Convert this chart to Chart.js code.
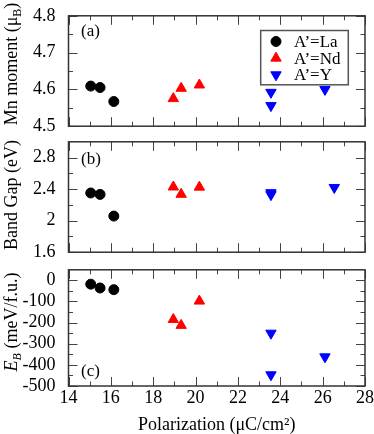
<!DOCTYPE html>
<html>
<head>
<meta charset="utf-8">
<script src="https://cdn.jsdelivr.net/npm/chart.js@4.4.1/dist/chart.umd.min.js"></script>
<style>
  html, body { margin: 0; padding: 0; background: #fff; }
  #wrap { position: relative; width: 374px; height: 434px; overflow: hidden; font-family: 'Liberation Serif', 'Times New Roman', serif; }
  canvas { position: absolute; left: 0; }
  .ytitle { position: absolute; width: 160px; height: 22px; line-height: 22px; text-align: center; font-size: 18px; color: #000; transform: rotate(-90deg); white-space: nowrap; }
  .ytitle sub { font-size: 12px; vertical-align: -4px; line-height: 0; }
</style>
</head>
<body>
<div id="wrap">
  <canvas id="ca" width="374" height="142" style="top:0px"></canvas>
  <canvas id="cb" width="374" height="142" style="top:126px"></canvas>
  <canvas id="cc" width="374" height="180" style="top:254px"></canvas>
  <div class="ytitle" style="left:-69px; top:53px">Mn moment (μ<sub>B</sub>)</div>
  <div class="ytitle" style="left:-69px; top:184px">Band Gap (eV)</div>
  <div class="ytitle" style="left:-69px; top:311px"><i>E<sub>B</sub></i> (meV/f.u.)</div>
</div>
<script>
// polarization (x) of each compound, uC/cm2
const polLa = [15.05, 15.49, 16.14];
const polNd = [18.95, 19.32, 20.18];
const polY = [23.56, 23.56, 26.11];
const polYGap = [23.56, 23.56, 26.55];

// (a) Mn moment
const momLa = [4.609, 4.605, 4.567];
const momNd = [4.575, 4.603, 4.612];
const momY = [4.592, 4.556, 4.600];

// (b) band gap
const gapLa = [2.351, 2.333, 2.058];
const gapNd = [2.427, 2.334, 2.425];
const gapY = [2.355, 2.330, 2.421];

// (c) E_B
const ebLa = [-18, -36, -44];
const ebNd = [-185, -213, -98];
const ebY = [-250, -447, -362];

const groups = ['A’=La', 'A’=Nd', 'A’=Y'];
const xTicks = [14, 16, 18, 20, 22, 24, 26, 28];
const momTicks = [4.5, 4.6, 4.7, 4.8];
const gapTicks = [1.6, 2, 2.4, 2.8];
const ebTicks = [-500, -400, -300, -200, -100, 0];

const serif = "'Liberation Serif', 'Times New Roman', serif";
const styles = [
  { pointStyle: 'circle', color: '#000000', radius: 5, rotation: 0 },
  { pointStyle: 'triangle', color: '#ff0000', radius: 6, rotation: 0 },
  { pointStyle: 'triangle', color: '#0000ff', radius: 6, rotation: 180 }
];

let pts = (xs, ys) => xs.map((x, i) => ({ x: x, y: ys[i] }));

let makeSets = (xsList, ysList) => xsList.map((xs, i) => ({
  label: groups[i],
  data: pts(xs, ysList[i]),
  pointStyle: styles[i].pointStyle,
  pointRotation: styles[i].rotation,
  pointRadius: styles[i].radius,
  pointBackgroundColor: styles[i].color,
  pointBorderColor: styles[i].color,
  pointBorderWidth: 1,
  showLine: false
}));

let mids = vals => vals.slice(1).map((v, i) => (v + vals[i]) / 2);

// frame with inward ticks on all four sides, panel letter, optional legend
const frame = {
  id: 'frame',
  beforeDatasetsDraw(chart, args, opts) {
    let { ctx, chartArea: a, scales: { x, y } } = chart;
    ctx.save();
    ctx.strokeStyle = '#444';
    ctx.lineWidth = 1;
    ctx.beginPath();
    let xt = (vals, len) => vals.forEach(v => {
      let px = Math.round(x.getPixelForValue(v)) + 0.5;
      ctx.moveTo(px, a.bottom); ctx.lineTo(px, a.bottom - len);
      ctx.moveTo(px, a.top); ctx.lineTo(px, a.top + len);
    });
    let yt = (vals, len) => vals.forEach(v => {
      let py = Math.round(y.getPixelForValue(v)) + 0.5;
      ctx.moveTo(a.left, py); ctx.lineTo(a.left + len, py);
      ctx.moveTo(a.right, py); ctx.lineTo(a.right - len, py);
    });
    xt(xTicks, 9);
    xt(mids(xTicks), 4.5);
    yt(opts.ticks, 9);
    yt(mids(opts.ticks), 4.5);
    ctx.stroke();

    ctx.strokeStyle = '#333';
    ctx.lineWidth = 1.5;
    ctx.strokeRect(a.left, a.top, a.right - a.left, a.bottom - a.top);

    ctx.fillStyle = '#000';
    ctx.font = '17px ' + serif;
    ctx.textAlign = 'left';
    ctx.textBaseline = 'middle';
    ctx.fillText(opts.label, a.left + 12.5, opts.fromTop ? a.top + opts.dy : a.bottom - opts.dy);
    ctx.restore();
  },
  afterDatasetsDraw(chart, args, opts) {
    if (!opts.legend) return;
    let { ctx, chartArea: a } = chart;
    ctx.save();
    let bx = a.right - 104.3, by = a.top + 14.7;
    ctx.fillStyle = '#fff';
    ctx.fillRect(bx, by, 87.6, 54.3);
    ctx.strokeStyle = '#555';
    ctx.lineWidth = 1.5;
    ctx.strokeRect(bx, by, 87.6, 54.3);
    ctx.font = '17px ' + serif;
    ctx.textAlign = 'left';
    ctx.textBaseline = 'middle';
    groups.forEach((g, i) => {
      let cy = by + 11 + i * 16.65;
      let s = styles[i];
      ctx.fillStyle = s.color;
      ctx.strokeStyle = s.color;
      ctx.lineWidth = 1;
      Chart.helpers.drawPoint(ctx, { pointStyle: s.pointStyle, rotation: s.rotation, radius: s.radius, borderWidth: 1 }, bx + 15.3, cy);
      ctx.fillStyle = '#000';
      ctx.fillText(g, bx + 33.3, cy + 1);
    });
    ctx.restore();
  }
};

let panel = (id, sets, yTicks, yMin, yMax, showX, pad, frameOpts) => new Chart(document.getElementById(id), {
  type: 'scatter',
  data: { datasets: sets },
  options: {
    responsive: false,
    animation: false,
    devicePixelRatio: 1,
    layout: { padding: pad },
    plugins: { legend: { display: false }, tooltip: { enabled: false }, frame: frameOpts },
    scales: {
      x: {
        type: 'linear', min: 14, max: 28, display: showX,
        grid: { display: false }, border: { display: false },
        afterBuildTicks: s => { s.ticks = xTicks.map(v => ({ value: v })); },
        afterFit: s => { if (showX) { s.height = 48; s.paddingLeft = 0; s.paddingRight = 0; } },
        ticks: { font: { size: 18, family: serif }, color: '#000', padding: -7, maxRotation: 0, autoSkip: false },
        title: { display: showX, text: 'Polarization (μC/cm²)', font: { size: 18, family: serif }, color: '#000', padding: { top: 0, bottom: -2 } }
      },
      y: {
        type: 'linear', min: yMin, max: yMax,
        grid: { display: false }, border: { display: false },
        afterBuildTicks: s => { s.ticks = yTicks.map(v => ({ value: v })); },
        afterFit: s => { s.width = 68.5; },
        ticks: { font: { size: 18, family: serif }, color: '#000', padding: 5, autoSkip: false, callback: v => String(v) }
      }
    }
  },
  plugins: [frame]
});

panel('ca', makeSets([polLa, polNd, polY], [momLa, momNd, momY]), momTicks, 4.5, 4.8, false,
  { top: 7, bottom: 12.5, left: 0, right: 9 },
  { ticks: momTicks, label: '(a)', fromTop: true, dy: 16, legend: true });

panel('cb', makeSets([polLa, polNd, polYGap], [gapLa, gapNd, gapY]), gapTicks, 1.6, 3.0, false,
  { top: 8, bottom: 10.5, left: 0, right: 9 },
  { ticks: gapTicks, label: '(b)', fromTop: true, dy: 17.7 });

panel('cc', makeSets([polLa, polNd, polY], [ebLa, ebNd, ebY]), ebTicks, -500, 50, true,
  { top: 8.5, bottom: 0, left: 0, right: 9 },
  { ticks: ebTicks, label: '(c)', fromTop: false, dy: 14.3 });
</script>
</body>
</html>
